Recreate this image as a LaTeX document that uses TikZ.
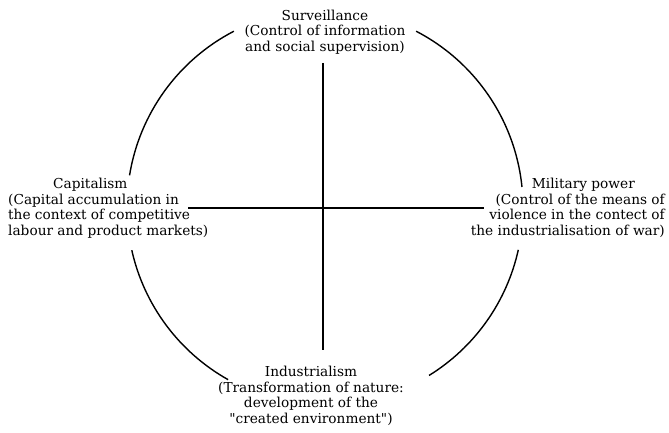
\documentclass[tikz,border=0pt]{standalone}
\usepackage{fontspec}
\newfontfamily\labelfont{DejaVu Serif}
\begin{document}
\begin{tikzpicture}[x=1pt,y=1pt,
  label/.style={inner sep=0pt, font=\labelfont\fontsize{13.7}{15.5}\selectfont},
  ring/.style={line width=1.4pt},
  axis/.style={line width=1.4pt}]
\useasboundingbox (0,0) rectangle (669,433);
% centre of the ring and ends of the two axes
\coordinate (c) at (325,226);
\coordinate (vtop) at (323,370);
\coordinate (vbot) at (323,83);
\coordinate (hl) at (188,225);
\coordinate (hr) at (484,225);
% four arcs of the ring, broken where the labels sit
\draw[ring] (c) ++(5.8:198) arc[start angle=5.8, end angle=62.6, radius=198];
\draw[ring] (c) ++(117.4:198) arc[start angle=117.4, end angle=170.8, radius=198];
\draw[ring] (c) ++(192.6:198) arc[start angle=192.6, end angle=240.7, radius=198];
\draw[ring] (c) ++(301.7:198) arc[start angle=301.7, end angle=347.5, radius=198];
% the cross
\draw[axis] (vtop) -- (vbot);
\draw[axis] (hl) -- (hr);
% labels
\node[label, align=center] (surv) at (325,401) {Surveillance\\(Control of information\\and social supervision)};
\node[label, align=left, anchor=west] (cap) at (8,225) {\hspace*{45pt}Capitalism\\(Capital accumulation in\\the context of competitive\\labour and product markets)};
\node[label, align=right, anchor=east] (mil) at (665,225) {Military power\hspace*{30pt}\\(Control of the means of\\violence in the contect of\\the industrialisation of war)};
\node[label, align=center] (ind) at (311,37) {Industrialism\\(Transformation of nature:\\development of the\\"created environment")};
\end{tikzpicture}
\end{document}
